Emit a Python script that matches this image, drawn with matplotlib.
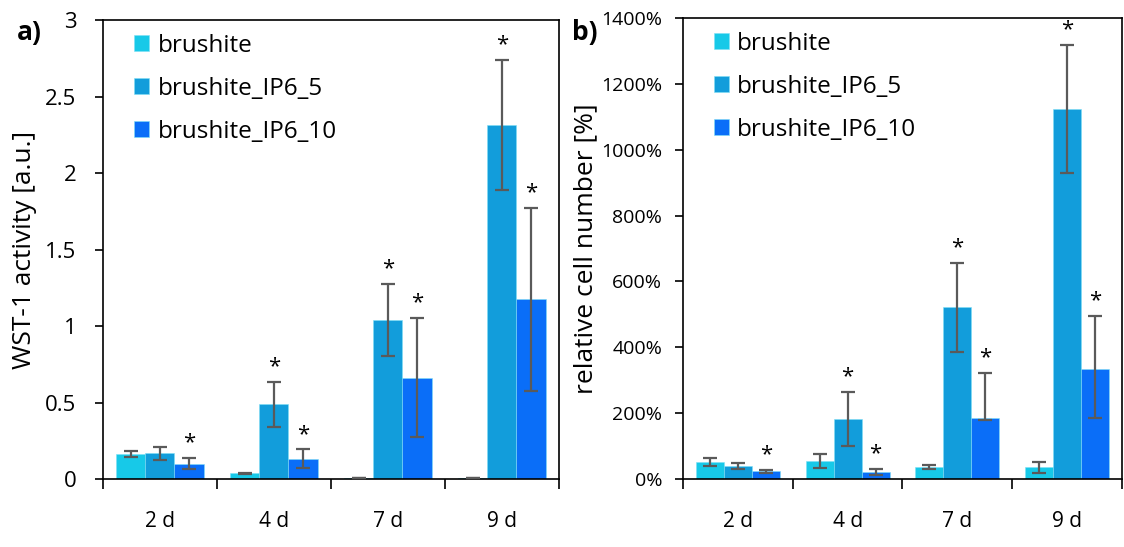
import numpy as np
import matplotlib.pyplot as plt

plt.rcParams['font.family'] = ['Open Sans', 'DejaVu Sans']

days = ['2 d', '4 d', '7 d', '9 d']
series = ['brushite', 'brushite_IP6_5', 'brushite_IP6_10']
colors = ['#17C9E8', '#129DDB', '#0A6EF8']

# panel a: WST-1 activity [a.u.]
wst_brushite = [0.163, 0.037, 0.006, 0.006]
wst_ip6_5 = [0.167, 0.488, 1.04, 2.314]
wst_ip6_10 = [0.10, 0.133, 0.662, 1.174]
wst_err_brushite = [0.02, 0.004, 0.002, 0.002]
wst_err_ip6_5 = [0.045, 0.147, 0.233, 0.425]
wst_err_ip6_10 = [0.036, 0.06, 0.39, 0.60]
wst_star = [[False, False, False, False], [False, True, True, True], [True, True, True, True]]

# panel b: relative cell number [%]
cell_brushite = [50.7, 53.7, 37, 35.5]
cell_ip6_5 = [39.5, 182, 521, 1123]
cell_ip6_10 = [23.3, 20, 186, 333]
cell_err_brushite = [12.6, 21, 6, 16]
cell_err_ip6_5 = [10, 83, 134, 195]
cell_err_ip6_10_low = [5, 8, 6, 147]
cell_err_ip6_10_high = [5, 9, 136, 161]
cell_star = wst_star

fig = plt.figure(figsize=(11.24, 5.47), dpi=100)
ax_a = fig.add_axes([0.0916, 0.1243, 0.4057, 0.8391])
ax_b = fig.add_axes([0.6077, 0.1243, 0.3903, 0.8427])

x = np.arange(len(days))
w = 0.255


def draw(ax, vals, errs, stars, ymax, star_off):
    for i, (v, e) in enumerate(zip(vals, errs)):
        pos = x + (i - 1) * w
        ax.bar(pos, v, width=w, color=colors[i], edgecolor='#7FE0F5', linewidth=0.4,
               label=series[i], zorder=2)
        ax.errorbar(pos, v, yerr=e, fmt='none', ecolor='#5A5A5A', elinewidth=1.6,
                    capsize=5, capthick=1.6, zorder=3)
        top = np.asarray(v) + np.atleast_2d(e)[-1]
        for j in range(len(days)):
            if stars[i][j]:
                ax.text(pos[j], top[j] + star_off, '*', ha='center', va='bottom',
                        fontsize=16, color='black')
    ax.set_xlim(-0.5, len(days) - 0.5)
    ax.set_ylim(0, ymax)
    ax.set_xticks(np.arange(len(days) + 1) - 0.5)
    ax.set_xticklabels([])
    ax.set_xticks(x, minor=True)
    ax.set_xticklabels(days, minor=True, fontsize=15)
    ax.tick_params(axis='x', which='minor', length=0, pad=23)
    ax.tick_params(axis='x', which='major', direction='out', length=7, width=1.2)
    ax.tick_params(axis='y', direction='out', length=6, width=1.2)
    for s in ax.spines.values():
        s.set_linewidth(1.2)
        s.set_color('black')
    ax.legend(loc='upper left', frameon=False, fontsize=17.5, handlelength=0.62,
              handleheight=0.62, handletextpad=0.35, labelspacing=0.78,
              bbox_to_anchor=(0.02, 1.018))


draw(ax_a, [wst_brushite, wst_ip6_5, wst_ip6_10],
     [wst_err_brushite, wst_err_ip6_5, wst_err_ip6_10], wst_star, 3, 0.03)
ax_a.set_yticks([0, 0.5, 1, 1.5, 2, 2.5, 3])
ax_a.set_yticklabels(['0', '0.5', '1', '1.5', '2', '2.5', '3'], fontsize=16)
ax_a.tick_params(axis='y', pad=13)
ax_a.set_ylabel('WST-1 activity [a.u.]', fontsize=19, labelpad=6)

draw(ax_b, [cell_brushite, cell_ip6_5, cell_ip6_10],
     [cell_err_brushite, cell_err_ip6_5, [cell_err_ip6_10_low, cell_err_ip6_10_high]],
     cell_star, 1400, 15)
ax_b.set_yticks(np.arange(0, 1401, 200))
ax_b.set_yticklabels([f'{t}%' for t in range(0, 1401, 200)], fontsize=14)
ax_b.tick_params(axis='y', pad=9)
ax_b.set_ylabel('relative cell number [%]', fontsize=19, labelpad=2)

fig.text(0.015, 0.94, 'a)', fontsize=19, fontweight='bold', va='center')
fig.text(0.509, 0.94, 'b)', fontsize=19, fontweight='bold', va='center')

fig.savefig('out.png', dpi=100)
